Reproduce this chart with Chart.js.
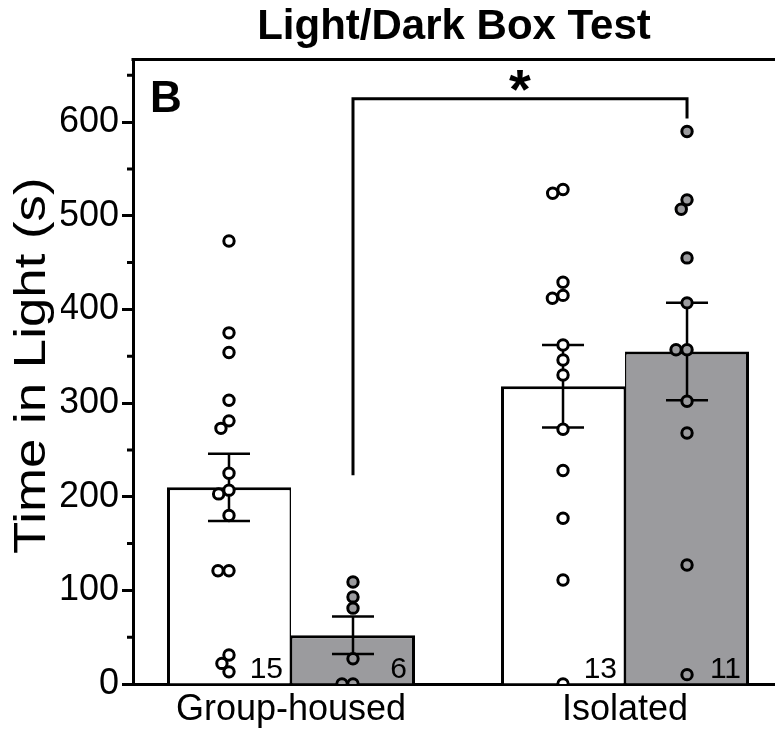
<!DOCTYPE html>
<html>
<head>
<meta charset="utf-8">
<script src="https://cdn.jsdelivr.net/npm/chart.js@4.4.1/dist/chart.umd.min.js"></script>
<style>
  html, body { margin: 0; padding: 0; background: #fff; overflow: hidden; }
</style>
</head>
<body>
<canvas id="boxChart" width="775" height="735"></canvas>
<script>
// Datos (Light/Dark Box Test, panel B)
const categories  = ['Group-housed', 'Isolated'];
const whiteMeans  = [210, 318];
const whiteSem    = [36, 44];
const greyMeans   = [52, 355];
const greySem     = [20, 52];
const whitePoints = [
  [473, 375, 354, 303, 281, 273, 225, 207, 203, 180, 121, 121, 31, 22, 13],
  [528, 524, 429, 415, 412, 362, 346, 330, 272, 228, 177, 111, 0]
];
const greyPoints  = [
  [109, 93, 81, 27, 0, 0],
  [590, 517, 507, 455, 407, 357, 357, 302, 268, 127, 10]
];
const yTicks      = [0, 100, 200, 300, 400, 500, 600];
const yTickLabels = ['0', '100', '200', '300', '400', '500', '600'];
const yMinor      = [50, 150, 250, 350, 450, 550, 650];
const yMax        = 667;
const yTitle      = 'Time in Light (s)';
// Corchete de significación entre las dos barras grises
const sigBracket  = { top: 625, leftFoot: 223, rightFoot: 604, label: '*' };

const FONT = '"Liberation Sans", Arial, Helvetica, sans-serif';
const GREY = '#9b9b9e';
const CAT_PCT = 0.7425;

const annotations = {
  id: 'annotations',
  afterDatasetDraw(chart, args) {
    if (args.index !== 2) return;
    // barras de error (SEM) por debajo de los puntos
    const { ctx } = chart;
    const ys = chart.scales.y;
    [[2, whiteMeans, whiteSem], [3, greyMeans, greySem]].forEach(([d, means, sem]) => {
      chart.getDatasetMeta(d).data.forEach((bar, i) => {
        const x = bar.x;
        const y1 = ys.getPixelForValue(means[i] + sem[i]);
        const y2 = ys.getPixelForValue(means[i] - sem[i]);
        ctx.save();
        ctx.strokeStyle = '#000';
        ctx.lineWidth = 2.5;
        ctx.beginPath();
        ctx.moveTo(x, y1); ctx.lineTo(x, y2);
        ctx.moveTo(x - 21, y1); ctx.lineTo(x + 21, y1);
        ctx.moveTo(x - 21, y2); ctx.lineTo(x + 21, y2);
        ctx.stroke();
        ctx.restore();
      });
    });
  },
  afterDraw(chart) {
    const { ctx, chartArea: a } = chart;
    const ys = chart.scales.y;
    ctx.save();
    ctx.strokeStyle = '#000';
    ctx.fillStyle = '#000';
    ctx.lineWidth = 3;

    // marco superior
    ctx.beginPath();
    ctx.moveTo(a.left - 1.5, a.top);
    ctx.lineTo(a.right, a.top);
    ctx.stroke();

    // ticks menores
    ctx.beginPath();
    yMinor.forEach(v => {
      const y = ys.getPixelForValue(v);
      ctx.moveTo(a.left - 6, y);
      ctx.lineTo(a.left, y);
    });
    ctx.stroke();

    // título del eje Y (algo estirado, como en la figura)
    ctx.save();
    ctx.translate(33, (a.top + a.bottom) / 2 - 6);
    ctx.rotate(-Math.PI / 2);
    ctx.scale(1.2, 1);
    ctx.font = '44px ' + FONT;
    ctx.textAlign = 'center';
    ctx.textBaseline = 'middle';
    ctx.fillText(yTitle, 0, 0);
    ctx.restore();

    // letra del panel
    ctx.font = 'bold 44px ' + FONT;
    ctx.textAlign = 'left';
    ctx.textBaseline = 'alphabetic';
    ctx.fillText('B', a.left + 17, a.top + 53);

    // corchete
    const g = chart.getDatasetMeta(3).data;
    const x1 = g[0].x, x2 = g[1].x;
    const yt = ys.getPixelForValue(sigBracket.top);
    ctx.beginPath();
    ctx.moveTo(x1, ys.getPixelForValue(sigBracket.leftFoot));
    ctx.lineTo(x1, yt);
    ctx.lineTo(x2, yt);
    ctx.lineTo(x2, ys.getPixelForValue(sigBracket.rightFoot));
    ctx.stroke();
    ctx.font = 'bold 56px ' + FONT;
    ctx.textAlign = 'center';
    const m = ctx.measureText(sigBracket.label);
    const gh = m.actualBoundingBoxAscent + m.actualBoundingBoxDescent;
    ctx.fillText(sigBracket.label, (x1 + x2) / 2, yt - 8 - gh + m.actualBoundingBoxAscent);

    // n por barra
    ctx.font = '30px ' + FONT;
    ctx.textAlign = 'right';
    [[2, whitePoints], [3, greyPoints]].forEach(([d, pts]) => {
      chart.getDatasetMeta(d).data.forEach((bar, i) => {
        ctx.fillText(String(pts[i].length), bar.x + bar.width / 2 - 8, bar.base - 6);
      });
    });
    ctx.restore();
  }
};

// reparto horizontal de puntos solapados (beeswarm simple, en píxeles)
function swarm(values, pxPerUnit, T) {
  const placed = [];
  return values.map(v => {
    const y = v * pxPerUnit;
    const blocks = placed
      .filter(p => Math.abs(p.y - y) < T)
      .map(p => {
        const w = Math.sqrt(T * T - (p.y - y) ** 2);
        return [p.x - w, p.x + w];
      });
    const cands = [0];
    blocks.forEach(([l, r]) => cands.push(l, r));
    cands.sort((p, q) => Math.abs(p) - Math.abs(q) || p - q);
    const x = cands.find(c => blocks.every(([l, r]) => c <= l + 1e-6 || c >= r - 1e-6));
    placed.push({ x, y });
    return x;
  });
}

const pointsData = (groups, side) =>
  groups.flatMap((vals, i) => vals.map(v => ({ x: i + side * CAT_PCT / 4, y: v })));

const chart = new Chart(document.getElementById('boxChart'), {
  type: 'bar',
  data: {
    datasets: [
      {
        type: 'scatter', data: pointsData(whitePoints, -1),
        pointRadius: 5.2, pointBorderWidth: 3,
        pointBackgroundColor: '#fff', pointBorderColor: '#000'
      },
      {
        type: 'scatter', data: pointsData(greyPoints, 1),
        pointRadius: 5.2, pointBorderWidth: 3,
        pointBackgroundColor: GREY, pointBorderColor: '#000'
      },
      {
        type: 'bar', data: whiteMeans.map((v, i) => ({ x: i, y: v })),
        backgroundColor: '#fff', borderColor: '#000',
        borderWidth: { top: 3, left: 3, right: 1.5, bottom: 0 },
        categoryPercentage: CAT_PCT, barPercentage: 1
      },
      {
        type: 'bar', data: greyMeans.map((v, i) => ({ x: i, y: v })),
        backgroundColor: GREY, borderColor: '#000',
        borderWidth: { top: 3, left: 1.5, right: 3, bottom: 0 },
        categoryPercentage: CAT_PCT, barPercentage: 1
      }
    ]
  },
  options: {
    responsive: false,
    animation: false,
    events: [],
    layout: { autoPadding: false, padding: { left: 61, right: 0, top: 0, bottom: 0 } },
    scales: {
      x: {
        type: 'linear',
        offset: false,
        min: -0.473, max: 1.449,
        afterBuildTicks: s => { s.ticks = categories.map((c, i) => ({ value: i })); },
        afterFit: s => { s.height = 51; s.paddingLeft = 0; s.paddingRight = 0; },
        ticks: {
          font: { family: FONT, size: 36 }, color: '#000', padding: 4,
          maxRotation: 0, autoSkip: false,
          callback: v => categories[v] ?? ''
        },
        grid: { display: false, drawTicks: false },
        border: { display: true, width: 3, color: '#000' }
      },
      y: {
        min: 0, max: yMax,
        afterBuildTicks: s => { s.ticks = yTicks.map(v => ({ value: v })); },
        afterFit: s => { s.width = 72; },
        ticks: {
          font: { family: FONT, size: 36 }, color: '#000', padding: 3,
          callback: (v, i) => yTickLabels[i]
        },
        grid: { drawOnChartArea: false, tickLength: 11, tickWidth: 3, tickColor: '#000' },
        border: { display: true, width: 3, color: '#000' }
      }
    },
    plugins: {
      legend: { display: false },
      tooltip: { enabled: false },
      title: {
        display: true, text: 'Light/Dark Box Test', color: '#000',
        fullSize: false,
        font: { family: FONT, size: 42, weight: 'bold' },
        padding: { top: 2, bottom: 7 }
      }
    }
  },
  plugins: [annotations]
});

// desplazamiento de los puntos solapados usando las escalas reales
const xs = chart.scales.x, ys = chart.scales.y;
const unitPx = xs.getPixelForValue(1) - xs.getPixelForValue(0);
const yPx = (ys.getPixelForValue(0) - ys.getPixelForValue(100)) / 100;
[whitePoints, greyPoints].forEach((groups, d) => {
  const side = d === 0 ? -1 : 1;
  chart.data.datasets[d].data = groups.flatMap((vals, i) => {
    const dx = swarm(vals, yPx, 11);
    return vals.map((v, k) => ({ x: i + side * CAT_PCT / 4 + dx[k] / unitPx, y: v }));
  });
});
chart.update('none');
</script>
</body>
</html>
